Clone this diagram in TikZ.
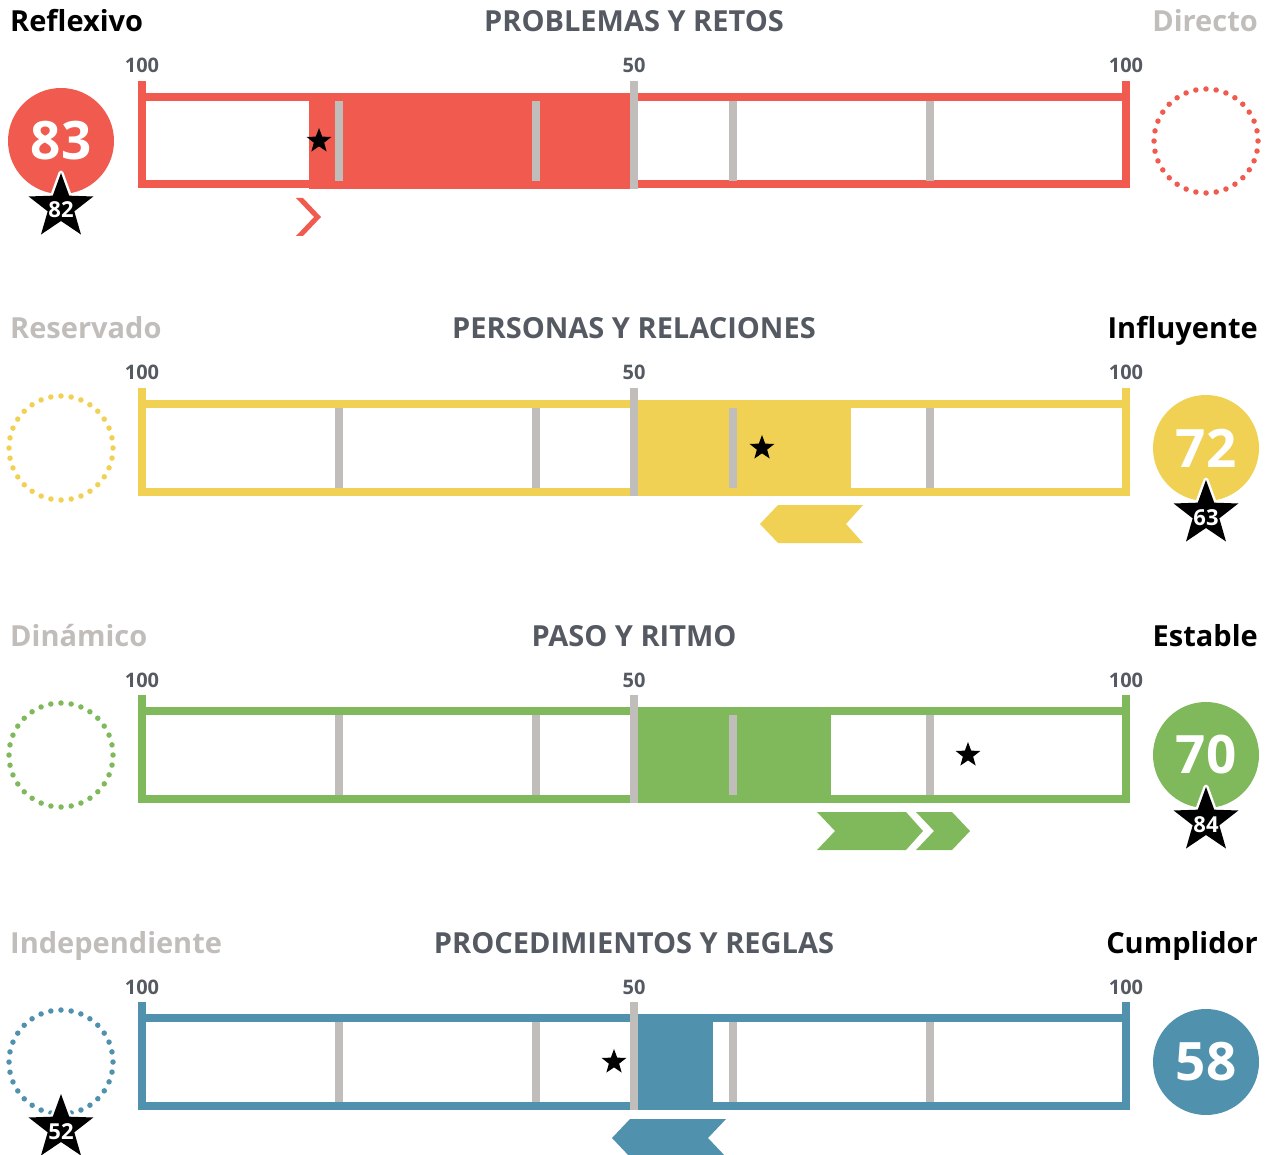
\documentclass[tikz,border=0pt]{standalone}
\usepackage{fontspec}
\setmainfont{Open Sans}
\definecolor{probred}{HTML}{F15B4F}
\definecolor{persyellow}{HTML}{F0D153}
\definecolor{pasogreen}{HTML}{80B95B}
\definecolor{procblue}{HTML}{5091AE}
\definecolor{tickgray}{HTML}{C1BDBA}
\definecolor{titlegray}{HTML}{555A62}
\tikzset{
  side/.style={font=\fontsize{29}{31}\selectfont\bfseries, inner sep=0},
  title/.style={font=\fontsize{29}{31}\selectfont\bfseries, text=titlegray, inner sep=0, anchor=base},
  scalelabel/.style={font=\fontsize{20}{22}\selectfont\bfseries, text=titlegray, inner sep=0, anchor=base},
  frame/.style={line width=8, line cap=butt},
  tick/.style={line width=8, tickgray},
  disc/.style={circle, minimum size=106, inner sep=0, text=white, font=\fontsize{53}{55}\selectfont\bfseries},
  ring/.style={circle, minimum size=104, inner sep=0, line width=5.5, dash pattern=on 0pt off 10.21pt, line cap=round},
  starnum/.style={font=\fontsize{22}{24}\selectfont\bfseries, text=white, inner sep=0, anchor=base},
  bigstar/.pic={
    \filldraw[white, line width=5, line join=round]
      (-90:34) -- (-54:14) -- (-18:34) -- (18:14) -- (54:34) -- (90:14)
      -- (126:34) -- (162:14) -- (198:34) -- (234:14) -- cycle;
    \fill[black]
      (-90:34) -- (-54:14) -- (-18:34) -- (18:14) -- (54:34) -- (90:14)
      -- (126:34) -- (162:14) -- (198:34) -- (234:14) -- cycle;
  },
  markstar/.pic={
    \fill[black]
      (-90:13) -- (-54:5.4) -- (-18:13) -- (18:5.4) -- (54:13) -- (90:5.4)
      -- (126:13) -- (162:5.4) -- (198:13) -- (234:5.4) -- cycle;
  },
}
\begin{document}
\begin{tikzpicture}[x=1pt,y=-1pt]
  \useasboundingbox (0,0) rectangle (1269,1155);
  % problemas y retos
  \node[side, anchor=base west] (pr-left) at (10,32) {Reflexivo};
  \node[side, anchor=base east, text=tickgray] (pr-right) at (1258,32) {Directo};
  \node[title] (pr-title) at (634,32) {PROBLEMAS Y RETOS};
  \node[scalelabel] (pr-s1) at (142,73) {100};
  \node[scalelabel] (pr-s2) at (634,73) {50};
  \node[scalelabel] (pr-s3) at (1126,73) {100};
  \draw[frame, probred] (138,97) -- (1130,97) (138,184.5) -- (1130,184.5)
    (142,81) -- (142,188) (1126,81) -- (1126,188);
  \fill[probred] (309,93) rectangle (634,189);
  \draw[tick] (339,101) -- (339,181) (536,101) -- (536,181)
    (733,101) -- (733,181) (930,101) -- (930,181);
  \draw[tick] (634,81) -- (634,189);
  \pic (pr-mark) at (319,141) {markstar};
  \fill[probred] (296,198) -- (303,198) -- (321,217) -- (303,236) -- (296,236) -- (314,217) -- cycle;
  \node[disc, fill=probred] (pr-score) at (61,141) {83};
  \pic (pr-star) at (61,207) {bigstar};
  \node[starnum] (pr-starnum) at (61,218) {82};
  \node[ring, draw=probred] (pr-ring) at (1206,141) {};
  % personas y relaciones
  \begin{scope}[shift={(0,307)}]
    \node[side, anchor=base west, text=tickgray] (pe-left) at (10,32) {Reservado};
    \node[side, anchor=base east] (pe-right) at (1258,32) {Influyente};
    \node[title] (pe-title) at (634,32) {PERSONAS Y RELACIONES};
    \node[scalelabel] (pe-s1) at (142,73) {100};
    \node[scalelabel] (pe-s2) at (634,73) {50};
    \node[scalelabel] (pe-s3) at (1126,73) {100};
    \draw[frame, persyellow] (138,97) -- (1130,97) (138,184.5) -- (1130,184.5)
      (142,81) -- (142,188) (1126,81) -- (1126,188);
    \fill[persyellow] (634,93) rectangle (851,189);
    \draw[tick] (339,101) -- (339,181) (536,101) -- (536,181)
      (733,101) -- (733,181) (930,101) -- (930,181);
    \draw[tick] (634,81) -- (634,189);
    \pic (pe-mark) at (762,141) {markstar};
    \fill[persyellow] (760,217) -- (778,198) -- (863,198) -- (846,217) -- (863,236) -- (778,236) -- cycle;
    \node[ring, draw=persyellow] (pe-ring) at (61,141) {};
    \node[disc, fill=persyellow] (pe-score) at (1206,141) {72};
    \pic (pe-star) at (1206,207) {bigstar};
    \node[starnum] (pe-starnum) at (1206,218) {63};
  \end{scope}
  % paso y ritmo
  \begin{scope}[shift={(0,614)}]
    \node[side, anchor=base west, text=tickgray] (pa-left) at (10,32) {Dinámico};
    \node[side, anchor=base east] (pa-right) at (1258,32) {Estable};
    \node[title] (pa-title) at (634,32) {PASO Y RITMO};
    \node[scalelabel] (pa-s1) at (142,73) {100};
    \node[scalelabel] (pa-s2) at (634,73) {50};
    \node[scalelabel] (pa-s3) at (1126,73) {100};
    \draw[frame, pasogreen] (138,97) -- (1130,97) (138,184.5) -- (1130,184.5)
      (142,81) -- (142,188) (1126,81) -- (1126,188);
    \fill[pasogreen] (634,93) rectangle (831,189);
    \draw[tick] (339,101) -- (339,181) (536,101) -- (536,181)
      (733,101) -- (733,181) (930,101) -- (930,181);
    \draw[tick] (634,81) -- (634,189);
    \pic (pa-mark) at (968,141) {markstar};
    \fill[pasogreen] (817,198) -- (906,198) -- (923,217) -- (906,236) -- (817,236) -- (835,217) -- cycle;
    \fill[pasogreen] (916,198) -- (952,198) -- (970,217) -- (952,236) -- (916,236) -- (934,217) -- cycle;
    \node[ring, draw=pasogreen] (pa-ring) at (61,141) {};
    \node[disc, fill=pasogreen] (pa-score) at (1206,141) {70};
    \pic (pa-star) at (1206,207) {bigstar};
    \node[starnum] (pa-starnum) at (1206,218) {84};
  \end{scope}
  % procedimientos y reglas
  \begin{scope}[shift={(0,921)}]
    \node[side, anchor=base west, text=tickgray] (po-left) at (10,32) {Independiente};
    \node[side, anchor=base east] (po-right) at (1258,32) {Cumplidor};
    \node[title] (po-title) at (634,32) {PROCEDIMIENTOS Y REGLAS};
    \node[scalelabel] (po-s1) at (142,73) {100};
    \node[scalelabel] (po-s2) at (634,73) {50};
    \node[scalelabel] (po-s3) at (1126,73) {100};
    \draw[frame, procblue] (138,97) -- (1130,97) (138,184.5) -- (1130,184.5)
      (142,81) -- (142,188) (1126,81) -- (1126,188);
    \fill[procblue] (634,93) rectangle (713,189);
    \draw[tick] (339,101) -- (339,181) (536,101) -- (536,181)
      (733,101) -- (733,181) (930,101) -- (930,181);
    \draw[tick] (634,81) -- (634,189);
    \pic (po-mark) at (614,141) {markstar};
    \fill[procblue] (612,217) -- (630,198) -- (726,198) -- (708,217) -- (726,236) -- (630,236) -- cycle;
    \node[ring, draw=procblue] (po-ring) at (61,141) {};
    \pic (po-star) at (61,207) {bigstar};
    \node[starnum] (po-starnum) at (61,218) {52};
    \node[disc, fill=procblue] (po-score) at (1206,141) {58};
  \end{scope}
\end{tikzpicture}
\end{document}
